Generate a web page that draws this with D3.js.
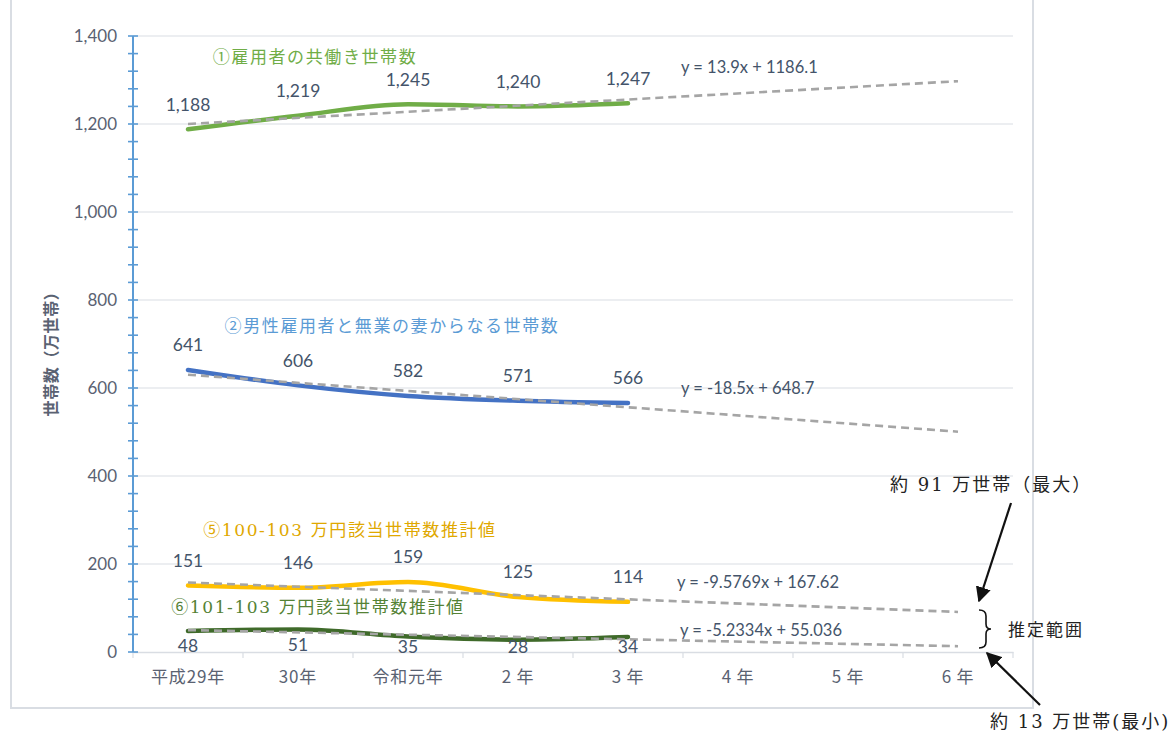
<!DOCTYPE html>
<html lang="ja">
<head>
<meta charset="utf-8">
<script src="https://cdn.jsdelivr.net/npm/d3@7"></script>
<style>
  html, body { margin: 0; padding: 0; background: #fff; }
  svg { display: block; }
</style>
</head>
<body>
<svg id="chart" width="1173" height="734"></svg>
<script>
// Fiscal-year categories on the x axis (first five observed, last three projected)
const categories = ["平成29年", "30年", "令和元年", "2 年", "3 年", "4 年", "5 年", "6 年"];

// Household counts (10,000 households)
const dualIncome = [1188, 1219, 1245, 1240, 1247];
const maleEarnerHousewife = [641, 606, 582, 571, 566];
const est100to103 = [151, 146, 159, 125, 114];
const est101to103 = [48, 51, 35, 28, 34];

// Linear trend lines y = a*x + b, x = 1 for the first category
const trendSlopes = [13.9, -18.5, -9.5769, -5.2334];
const trendIntercepts = [1186.1, 648.7, 167.62, 55.036];
const trendLabels = ["y = 13.9x + 1186.1", "y = -18.5x + 648.7", "y = -9.5769x + 167.62", "y = -5.2334x + 55.036"];

const seriesTitles = ["①雇用者の共働き世帯数", "②男性雇用者と無業の妻からなる世帯数", "⑤100-103 万円該当世帯数推計値", "⑥101-103 万円該当世帯数推計値"];

const yTicks = [0, 200, 400, 600, 800, 1000, 1200, 1400];
const yMinorStep = 40;

const svg = d3.select("#chart");

const plot = { left: 133, right: 1013, top: 36, bottom: 652 };

const x = d3.scaleBand().domain(categories).range([plot.left, plot.right]).padding(0);
const cx = i => x(categories[i]) + x.bandwidth() / 2;
const y = d3.scaleLinear().domain([0, 1400]).range([plot.bottom, plot.top]);

const sansNum = "Lato, 'Noto Sans CJK JP', sans-serif";
const serifJa = "'DejaVu Serif', 'Noto Sans CJK JP', serif";
const labelColor = "#44546A";
const tickColor = "#5A6272";

// Outer frame
svg.append("rect")
  .attr("x", 11).attr("y", -2).attr("width", 1022).attr("height", 710)
  .attr("fill", "none").attr("stroke", "#D9DDE3").attr("stroke-width", 2);

// Horizontal gridlines
svg.append("g")
  .selectAll("line")
  .data(yTicks.filter(d => d > 0))
  .join("line")
  .attr("x1", plot.left).attr("x2", plot.right)
  .attr("y1", d => y(d)).attr("y2", d => y(d))
  .attr("stroke", "#D9DDE3").attr("stroke-width", 1);

// X axis (category axis)
const xAxis = d3.axisBottom(x).tickSize(0).tickPadding(19);
const gx = svg.append("g").attr("transform", `translate(0,${plot.bottom})`).call(xAxis);
gx.select(".domain").attr("stroke", "#D9DDE3").attr("stroke-width", 1.5);
gx.selectAll(".tick text")
  .attr("font-family", "'Noto Sans CJK JP', sans-serif")
  .attr("font-size", 17).attr("letter-spacing", 0.8).attr("fill", tickColor);
// Tick marks between categories
svg.append("g")
  .selectAll("line")
  .data(d3.range(categories.length + 1))
  .join("line")
  .attr("x1", i => plot.left + i * x.bandwidth())
  .attr("x2", i => plot.left + i * x.bandwidth())
  .attr("y1", plot.bottom).attr("y2", plot.bottom + 6)
  .attr("stroke", "#D9DDE3").attr("stroke-width", 1.2);

// Y axis with cross ticks
const yAxisColor = "#5B9BD5";
svg.append("line")
  .attr("x1", plot.left).attr("x2", plot.left)
  .attr("y1", y(0)).attr("y2", y(1400))
  .attr("stroke", yAxisColor).attr("stroke-width", 2);
svg.append("g")
  .selectAll("line")
  .data(d3.range(0, 1400 + 1, yMinorStep))
  .join("line")
  .attr("x1", plot.left - 5).attr("x2", plot.left + 5)
  .attr("y1", d => y(d)).attr("y2", d => y(d))
  .attr("stroke", yAxisColor).attr("stroke-width", 1.6);
svg.append("g")
  .selectAll("text")
  .data(yTicks)
  .join("text")
  .attr("x", plot.left - 16)
  .attr("y", d => y(d))
  .attr("dy", "0.36em")
  .attr("text-anchor", "end")
  .attr("font-family", sansNum).attr("font-size", 17)
  .attr("fill", tickColor)
  .text(d => d3.format(",")(d));

// Y axis title
svg.append("text")
  .attr("transform", `translate(57,350) rotate(-90)`)
  .attr("text-anchor", "middle")
  .attr("font-family", "'Noto Sans CJK JP', sans-serif")
  .attr("font-weight", "bold").attr("font-size", 16).attr("letter-spacing", 0.6)
  .attr("fill", "#5A6272")
  .text("世帯数（万世帯）");

// Series definitions
const series = [
  { values: dualIncome, color: "#70AD47", labelPos: "above" },
  { values: maleEarnerHousewife, color: "#4472C4", labelPos: "above" },
  { values: est100to103, color: "#FFC000", labelPos: "above" },
  { values: est101to103, color: "#3F6A2A", labelPos: "below" }
];

const line = d3.line()
  .x((d, i) => cx(i))
  .y(d => y(d))
  .curve(d3.curveMonotoneX);

// Data lines
svg.append("g")
  .selectAll("path")
  .data(series)
  .join("path")
  .attr("d", s => line(s.values))
  .attr("fill", "none")
  .attr("stroke", s => s.color)
  .attr("stroke-width", 4.5)
  .attr("stroke-linecap", "round")
  .attr("stroke-linejoin", "round");

// Trend lines, projected to the last category
const lastIdx = categories.length - 1;
svg.append("g")
  .selectAll("line")
  .data(trendSlopes.map((a, k) => ({ a, b: trendIntercepts[k] })))
  .join("line")
  .attr("x1", cx(0)).attr("x2", cx(lastIdx))
  .attr("y1", t => y(t.a * 1 + t.b))
  .attr("y2", t => y(t.a * (lastIdx + 1) + t.b))
  .attr("stroke", "#A5A5A5")
  .attr("stroke-width", 2.6)
  .attr("stroke-dasharray", "8,5");

// Data labels
series.forEach(s => {
  svg.append("g")
    .selectAll("text")
    .data(s.values)
    .join("text")
    .attr("x", (d, i) => cx(i))
    .attr("y", d => s.labelPos === "above" ? y(d) - 25 : Math.min(y(d) + 15, y(0) - 5))
    .attr("dy", "0.36em")
    .attr("text-anchor", "middle")
    .attr("font-family", sansNum).attr("font-size", 17.5)
    .attr("fill", labelColor)
    .text(d => d3.format(",")(d));
});

// Trend equation labels
const eqPos = [[681, 67], [681, 388], [677, 582], [680, 630]];
svg.append("g")
  .selectAll("text")
  .data(trendLabels)
  .join("text")
  .attr("x", (d, i) => eqPos[i][0])
  .attr("y", (d, i) => eqPos[i][1])
  .attr("dy", "0.36em")
  .attr("font-family", sansNum).attr("font-size", 16.5)
  .attr("fill", labelColor)
  .text(d => d);

// Series titles
const titleStyle = [
  { x: 315, y: 57, color: "#70AD47" },
  { x: 392, y: 326, color: "#5B9BD5" },
  { x: 350, y: 530, color: "#E0A800" },
  { x: 318, y: 607, color: "#548235" }
];
svg.append("g")
  .selectAll("text")
  .data(seriesTitles)
  .join("text")
  .attr("x", (d, i) => titleStyle[i].x)
  .attr("y", (d, i) => titleStyle[i].y)
  .attr("dy", "0.36em")
  .attr("text-anchor", "middle")
  .attr("font-family", serifJa).attr("font-size", 17)
  .attr("letter-spacing", 1.6)
  .attr("fill", (d, i) => titleStyle[i].color)
  .text(d => d);

// Range annotation: arrows, brace and notes
const defs = svg.append("defs");
defs.append("marker")
  .attr("id", "arrowHead")
  .attr("viewBox", "0 0 10 10")
  .attr("refX", 9).attr("refY", 5)
  .attr("markerWidth", 7).attr("markerHeight", 7)
  .attr("markerUnits", "strokeWidth")
  .attr("orient", "auto")
  .append("path").attr("d", "M0,0 L10,5 L0,10 Z").attr("fill", "#111");

svg.append("line")
  .attr("x1", 1011).attr("y1", 503).attr("x2", 979).attr("y2", 601)
  .attr("stroke", "#111").attr("stroke-width", 2.2)
  .attr("marker-end", "url(#arrowHead)");
svg.append("line")
  .attr("x1", 1040).attr("y1", 705).attr("x2", 987).attr("y2", 653)
  .attr("stroke", "#111").attr("stroke-width", 2.2)
  .attr("marker-end", "url(#arrowHead)");

svg.append("path")
  .attr("d", "M979,610 Q986,610 986,616 L986,624 Q986,629 991,629 Q986,629 986,634 L986,642 Q986,648 979,648")
  .attr("fill", "none").attr("stroke", "#111").attr("stroke-width", 1.6);

const noteFont = serifJa;
svg.append("text")
  .attr("x", 890).attr("y", 485).attr("dy", "0.36em")
  .attr("font-family", noteFont).attr("font-size", 18).attr("letter-spacing", 2)
  .attr("fill", "#222")
  .text("約 91 万世帯（最大）");
svg.append("text")
  .attr("x", 1008).attr("y", 630).attr("dy", "0.36em")
  .attr("font-family", noteFont).attr("font-size", 17).attr("letter-spacing", 2)
  .attr("fill", "#222")
  .text("推定範囲");
svg.append("text")
  .attr("x", 990).attr("y", 722).attr("dy", "0.36em")
  .attr("font-family", noteFont).attr("font-size", 18).attr("letter-spacing", 2)
  .attr("fill", "#222")
  .text("約 13 万世帯(最小)");
</script>
</body>
</html>
